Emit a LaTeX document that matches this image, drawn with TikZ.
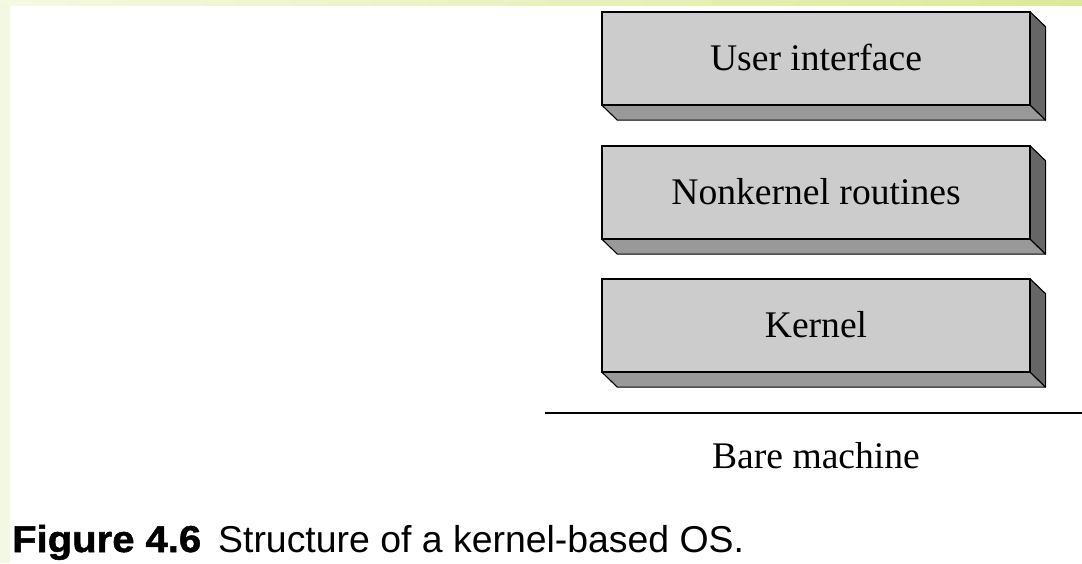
\documentclass[tikz,border=0pt]{standalone}
\usepackage{fontspec}
\setmainfont{Liberation Serif}
\newfontfamily\capfont{Liberation Sans}
\newfontfamily\capnumfont[FakeStretch=1.07,FakeBold=1.4]{Liberation Sans Bold}
\definecolor{facegray}{HTML}{CCCCCC}
\definecolor{basegray}{HTML}{999999}
\definecolor{sidegray}{HTML}{666666}
\definecolor{bandlight}{HTML}{F4F9E4}
\definecolor{banddark}{HTML}{DCE99A}
\definecolor{edgegreen}{HTML}{F3F8E2}
\begin{document}
\begin{tikzpicture}[x=1pt,y=-1pt,
  layer/.style={draw=black, line width=1.3pt, fill=facegray,
    minimum width=427pt, minimum height=92pt, inner sep=0pt,
    text height=24pt, text depth=0pt,
    font=\fontsize{37.6}{40}\selectfont},
  sideface/.style={draw=black, line width=1.1pt, fill=sidegray, line join=round},
  baseface/.style={draw=black, line width=1.1pt, fill=basegray, line join=round},
  plain/.style={inner sep=0pt, font=\fontsize{37.6}{40}\selectfont},
  captext/.style={inner sep=0pt, anchor=base west, font=\capfont\fontsize{37.4}{40}\selectfont}]
  % page and decorative border bands
  \fill[white] (0,0) rectangle (1082,563);
  \useasboundingbox (0,0) rectangle (1082,563);
  \shade[left color=bandlight, right color=banddark] (0,0) rectangle (1082,5);
  \fill[edgegreen] (0,5) rectangle (10,563);

  % depth of each slab
  \def\dx{15.5}
  \def\dy{15}

  % three stacked layers
  \foreach \nm/\cy/\txt in {ui/58.5/User interface,
                            nk/192.5/Nonkernel routines,
                            kn/325.5/Kernel}{
    \node[layer] (\nm) at (816,\cy) {\txt};
    \draw[baseface] (\nm.south west) -- (\nm.south east)
      -- ([shift={(\dx,\dy)}]\nm.south east)
      -- ([shift={(\dx,\dy)}]\nm.south west) -- cycle;
    \draw[sideface] (\nm.north east) -- ([shift={(\dx,\dy)}]\nm.north east)
      -- ([shift={(\dx,\dy)}]\nm.south east) -- (\nm.south east) -- cycle;
    \draw[draw=black, line width=1.3pt] (\nm.south west) rectangle (\nm.north east);
  }

  % bare machine boundary
  \coordinate (hwl) at (545,413);
  \coordinate (hwr) at (1082,413);
  \draw[line width=1.3pt] (hwl) -- (hwr);
  \node[plain, anchor=base] (bare) at (816,468) {Bare machine};

  % caption
  \node[captext, font=\capnumfont\fontsize{37.4}{40}\selectfont] (fignum) at (12,552) {Figure 4.6};
  \node[captext] (figtitle) at (218,552) {Structure of a kernel-based OS.};
\end{tikzpicture}
\end{document}
